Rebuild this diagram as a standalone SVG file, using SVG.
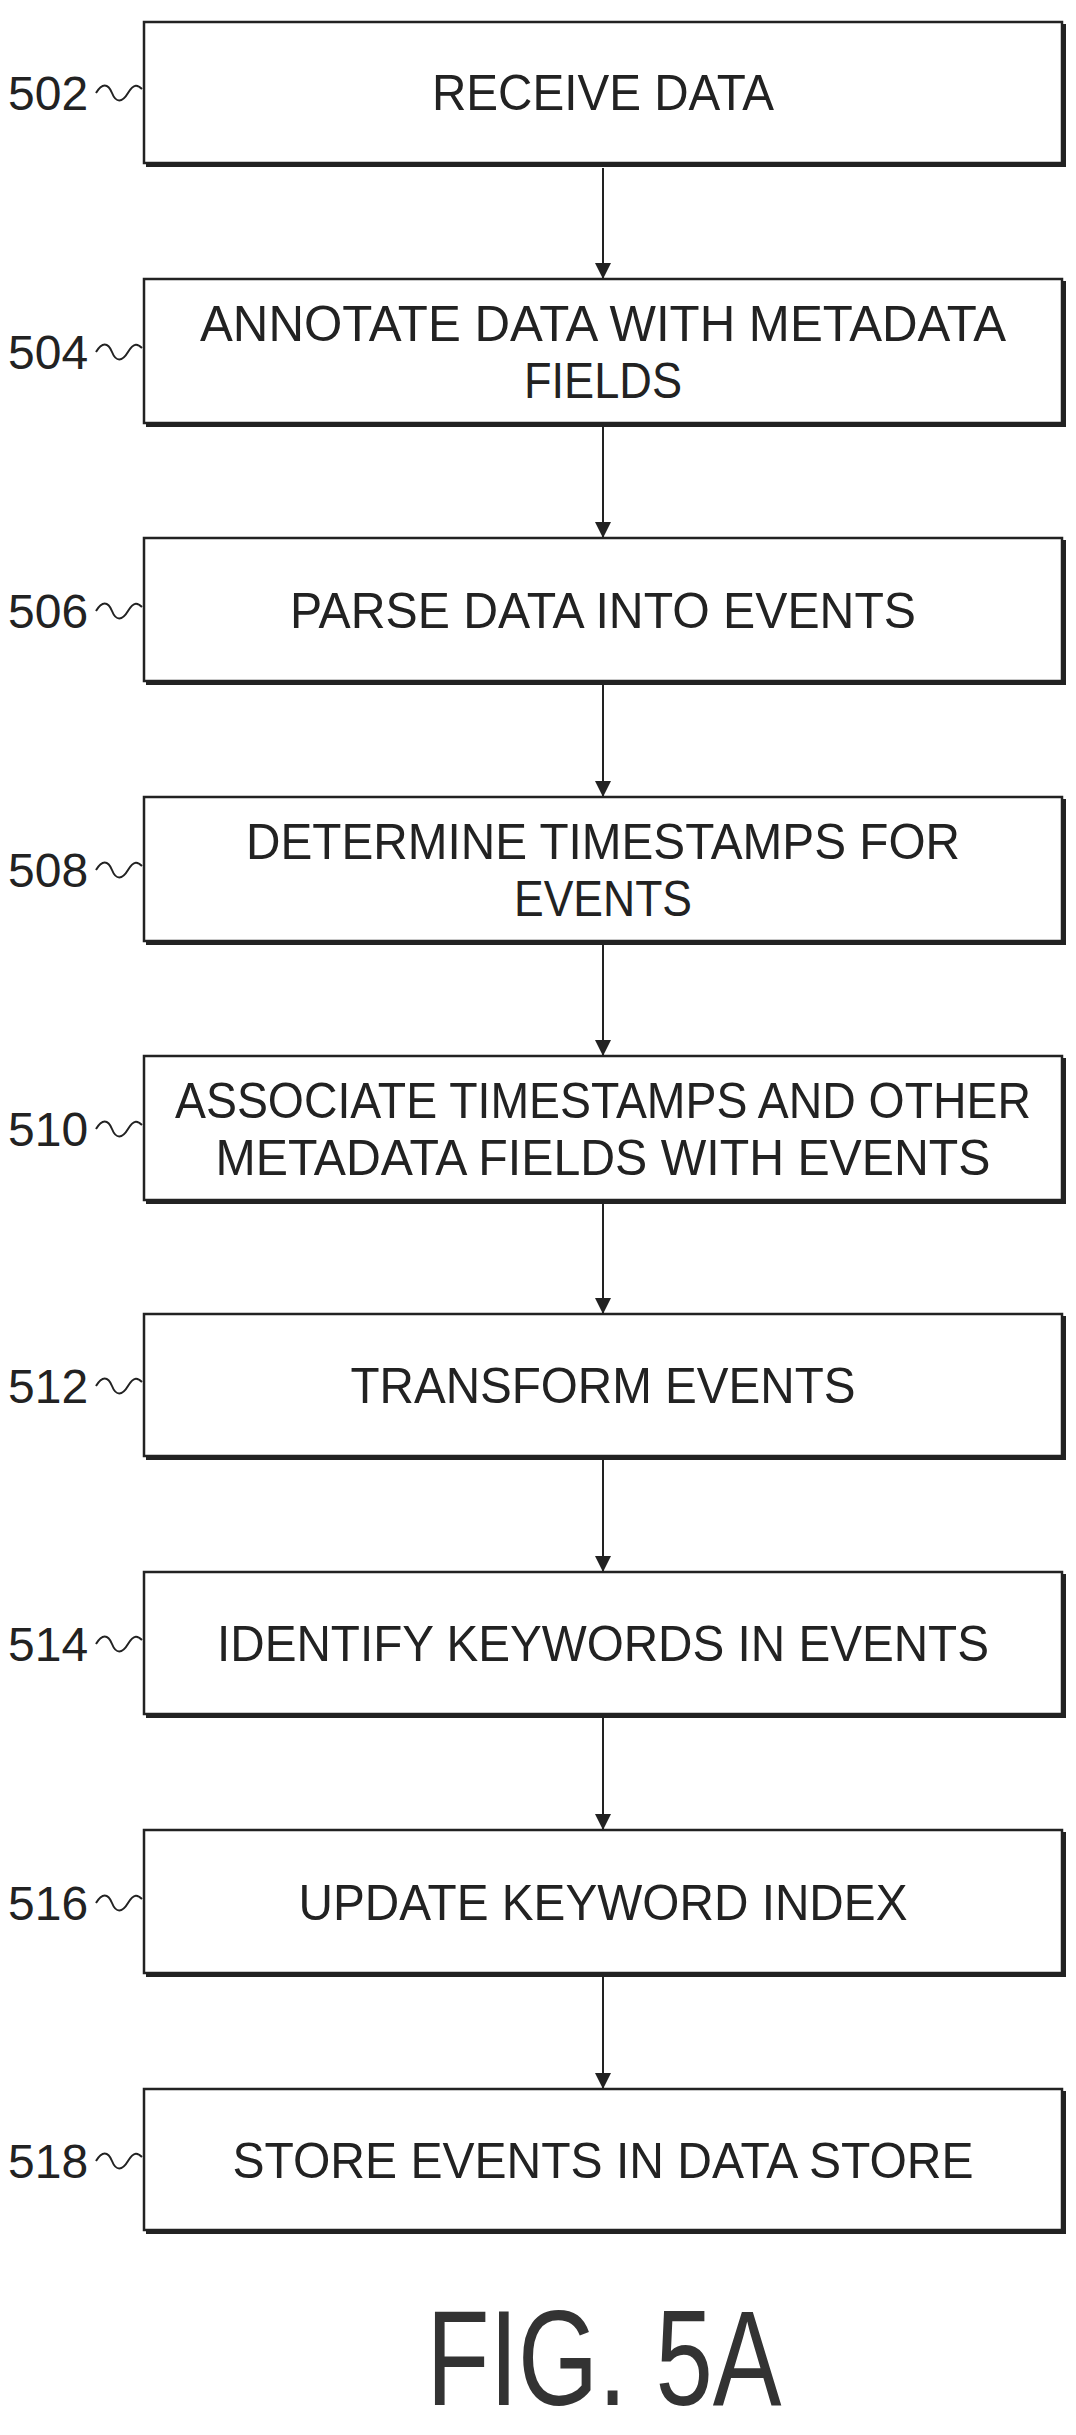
<svg xmlns="http://www.w3.org/2000/svg" width="1076" height="2435" viewBox="0 0 1076 2435">
<style>
.box{fill:#fff;stroke:#222;stroke-width:2.5}
.sh{fill:none;stroke:#222;stroke-width:4}
.t{font-family:"Liberation Sans",Arial,sans-serif;font-size:50px;fill:#222;text-anchor:middle}
.l{font-family:"Liberation Sans",Arial,sans-serif;font-size:48px;fill:#222}
.c{stroke:#222;stroke-width:2;fill:none}
</style>
<defs>
<marker id="ah" viewBox="0 0 10 10" refX="10" refY="5" markerWidth="16" markerHeight="16" markerUnits="userSpaceOnUse" orient="auto"><path d="M0,0 L10,5 L0,10 z" fill="#222"/></marker>
<path id="tl" d="M0,0 c6,-10 12,-10 16,0 s10,10 16,0 s10,-8 14,-4"/>
</defs>
<rect width="1076" height="2435" fill="#fff"/>
<g id="connectors">
<line class="c" x1="603" y1="168" x2="603" y2="279" marker-end="url(#ah)"/>
<line class="c" x1="603" y1="427" x2="603" y2="538" marker-end="url(#ah)"/>
<line class="c" x1="603" y1="685" x2="603" y2="797" marker-end="url(#ah)"/>
<line class="c" x1="603" y1="945" x2="603" y2="1056" marker-end="url(#ah)"/>
<line class="c" x1="603" y1="1204" x2="603" y2="1314" marker-end="url(#ah)"/>
<line class="c" x1="603" y1="1460" x2="603" y2="1572" marker-end="url(#ah)"/>
<line class="c" x1="603" y1="1718" x2="603" y2="1830" marker-end="url(#ah)"/>
<line class="c" x1="603" y1="1977" x2="603" y2="2089" marker-end="url(#ah)"/>
</g>
<g id="n502"><rect class="box" x="144" y="22" width="918" height="141"/><path class="sh" d="M146,165 H1064 V24"/><text class="t" x="603" y="110" textLength="342" lengthAdjust="spacingAndGlyphs">RECEIVE DATA</text><text class="l" x="8" y="110">502</text><use href="#tl" x="96" y="93" class="c"/></g>
<g id="n504"><rect class="box" x="144" y="279" width="918" height="144"/><path class="sh" d="M146,425 H1064 V281"/><text class="t" x="603" y="341" textLength="806" lengthAdjust="spacingAndGlyphs">ANNOTATE DATA WITH METADATA</text><text class="t" x="603" y="398" textLength="158" lengthAdjust="spacingAndGlyphs">FIELDS</text><text class="l" x="8" y="369">504</text><use href="#tl" x="96" y="352" class="c"/></g>
<g id="n506"><rect class="box" x="144" y="538" width="918" height="143"/><path class="sh" d="M146,683 H1064 V540"/><text class="t" x="603" y="628" textLength="626" lengthAdjust="spacingAndGlyphs">PARSE DATA INTO EVENTS</text><text class="l" x="8" y="628">506</text><use href="#tl" x="96" y="611" class="c"/></g>
<g id="n508"><rect class="box" x="144" y="797" width="918" height="144"/><path class="sh" d="M146,943 H1064 V799"/><text class="t" x="603" y="859" textLength="714" lengthAdjust="spacingAndGlyphs">DETERMINE TIMESTAMPS FOR</text><text class="t" x="603" y="916" textLength="178" lengthAdjust="spacingAndGlyphs">EVENTS</text><text class="l" x="8" y="887">508</text><use href="#tl" x="96" y="870" class="c"/></g>
<g id="n510"><rect class="box" x="144" y="1056" width="918" height="144"/><path class="sh" d="M146,1202 H1064 V1058"/><text class="t" x="603" y="1118" textLength="856" lengthAdjust="spacingAndGlyphs">ASSOCIATE TIMESTAMPS AND OTHER</text><text class="t" x="603" y="1175" textLength="775" lengthAdjust="spacingAndGlyphs">METADATA FIELDS WITH EVENTS</text><text class="l" x="8" y="1146">510</text><use href="#tl" x="96" y="1129" class="c"/></g>
<g id="n512"><rect class="box" x="144" y="1314" width="918" height="142"/><path class="sh" d="M146,1458 H1064 V1316"/><text class="t" x="603" y="1403" textLength="505" lengthAdjust="spacingAndGlyphs">TRANSFORM EVENTS</text><text class="l" x="8" y="1403">512</text><use href="#tl" x="96" y="1386" class="c"/></g>
<g id="n514"><rect class="box" x="144" y="1572" width="918" height="142"/><path class="sh" d="M146,1716 H1064 V1574"/><text class="t" x="603" y="1661" textLength="772" lengthAdjust="spacingAndGlyphs">IDENTIFY KEYWORDS IN EVENTS</text><text class="l" x="8" y="1661">514</text><use href="#tl" x="96" y="1644" class="c"/></g>
<g id="n516"><rect class="box" x="144" y="1830" width="918" height="143"/><path class="sh" d="M146,1975 H1064 V1832"/><text class="t" x="603" y="1920" textLength="609" lengthAdjust="spacingAndGlyphs">UPDATE KEYWORD INDEX</text><text class="l" x="8" y="1920">516</text><use href="#tl" x="96" y="1903" class="c"/></g>
<g id="n518"><rect class="box" x="144" y="2089" width="918" height="141"/><path class="sh" d="M146,2232 H1064 V2091"/><text class="t" x="603" y="2178" textLength="741" lengthAdjust="spacingAndGlyphs">STORE EVENTS IN DATA STORE</text><text class="l" x="8" y="2178">518</text><use href="#tl" x="96" y="2161" class="c"/></g>
<text x="604" y="2405" font-family="Liberation Sans, Arial, sans-serif" font-size="135" fill="#333" text-anchor="middle" textLength="355" lengthAdjust="spacingAndGlyphs">FIG. 5A</text>
</svg>
